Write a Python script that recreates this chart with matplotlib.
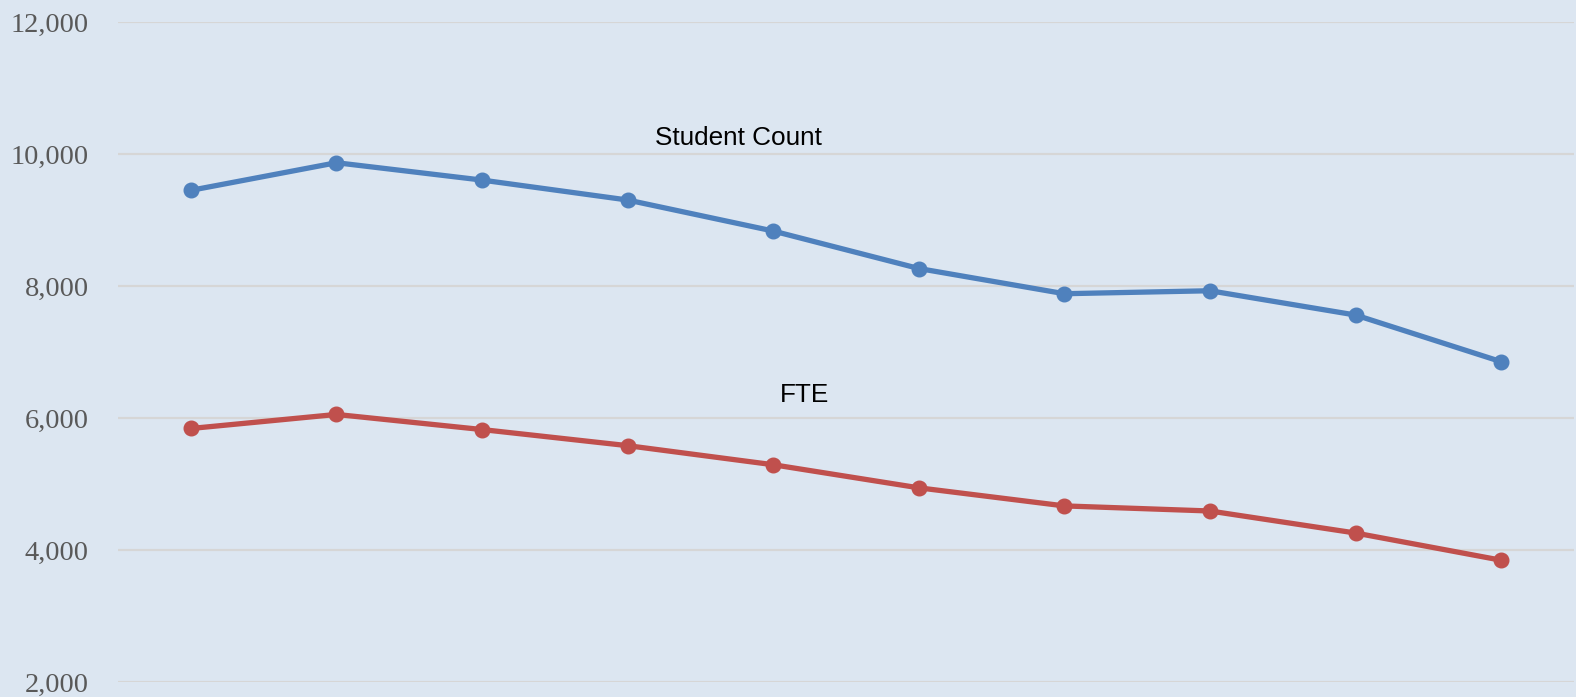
import matplotlib.pyplot as plt
from matplotlib.ticker import FuncFormatter

# values
periods = list(range(10))
student_count = [9449, 9868, 9605, 9303, 8833, 8265, 7883, 7928, 7560, 6853]
fte = [5841, 6054, 5825, 5581, 5292, 4942, 4668, 4591, 4257, 3845]
y_ticks = [2000, 4000, 6000, 8000, 10000, 12000]

bg = "#dce6f1"
blue = "#4f81bd"
red = "#c0504d"

fig = plt.figure(figsize=(15.76, 6.97), dpi=100, facecolor=bg)
ax = fig.add_axes([118 / 1576, 1 - 682 / 697, 1456 / 1576, 660 / 697])
ax.set_facecolor(bg)

ax.plot(periods, student_count, color=blue, lw=3.8, marker="o", ms=10.5)
ax.plot(periods, fte, color=red, lw=3.8, marker="o", ms=10.5)

ax.set_xlim(-0.5, 9.5)
ax.set_ylim(2000, 12000)
ax.set_yticks(y_ticks)
ax.yaxis.set_major_formatter(FuncFormatter(lambda v, p: f"{int(v):,}"))
ax.tick_params(axis="y", length=0, pad=21, labelsize=20.5, labelcolor="#595959")
for lab in ax.get_yticklabels():
    lab.set_fontfamily("Liberation Serif")
ax.set_xticks([])
ax.grid(axis="y", color="#d6d6d6", lw=1.6)
ax.set_axisbelow(True)
for s in ax.spines.values():
    s.set_visible(False)

ax.annotate("Student Count", xy=(738 / 1576, 1 - 138 / 697), xycoords="figure fraction",
            ha="center", va="center", fontsize=18.8, family="Liberation Sans")
ax.annotate("FTE", xy=(804 / 1576, 1 - 395 / 697), xycoords="figure fraction",
            ha="center", va="center", fontsize=18.8, family="Liberation Sans")

fig.savefig("out.png", dpi=100, facecolor=bg)
